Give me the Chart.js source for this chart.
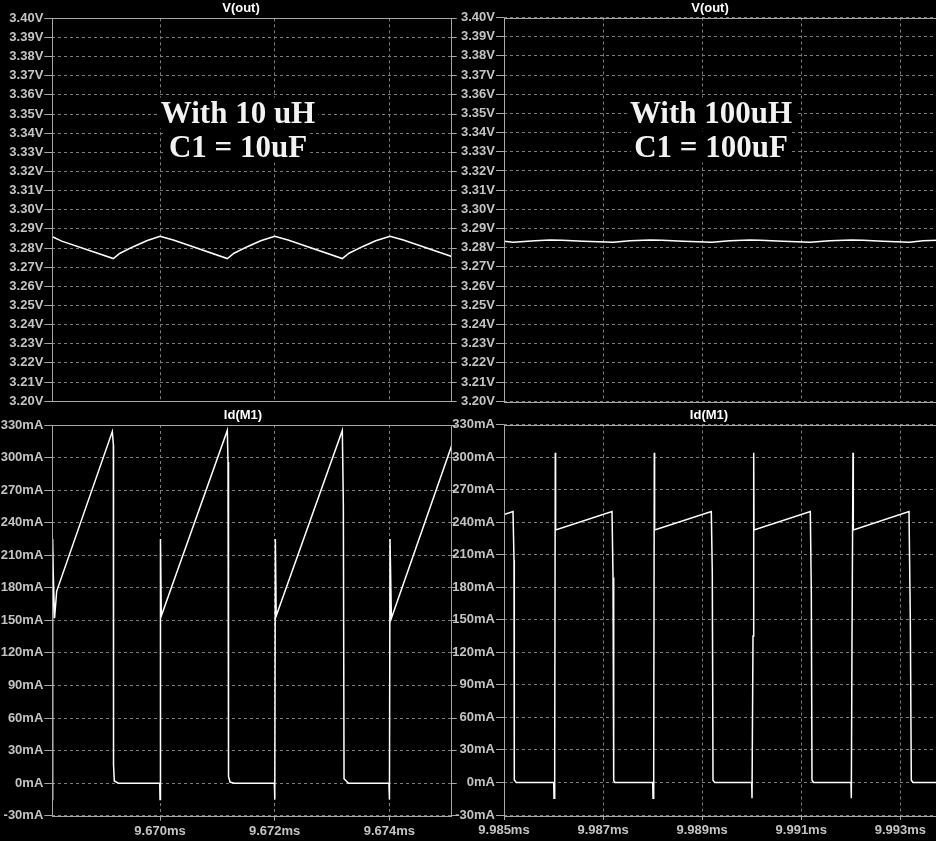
<!DOCTYPE html>
<html>
<head>
<meta charset="utf-8">
<script src="https://cdn.jsdelivr.net/npm/chart.js@4.4.1/dist/chart.umd.min.js"></script>
<style>
  html, body { margin: 0; padding: 0; background: #000; overflow: hidden; }
  #scope { position: relative; width: 936px; height: 841px; overflow: hidden; background: #000; }
  #scope canvas { position: absolute; }
</style>
</head>
<body>
<div id="scope">
  <canvas id="leftTop" width="468" height="410" style="left:0;top:0;width:468px;height:410px"></canvas>
  <canvas id="leftBottom" width="468" height="437" style="left:0;top:404px;width:468px;height:437px"></canvas>
  <canvas id="rightTop" width="500" height="410" style="left:452px;top:0;width:500px;height:410px"></canvas>
  <canvas id="rightBottom" width="500" height="437" style="left:452px;top:404px;width:500px;height:437px"></canvas>
</div>
<script>
// tick values
const voltTicks = [3.20, 3.21, 3.22, 3.23, 3.24, 3.25, 3.26, 3.27, 3.28, 3.29, 3.30,
                   3.31, 3.32, 3.33, 3.34, 3.35, 3.36, 3.37, 3.38, 3.39, 3.40];
const currentTicks = [-30, 0, 30, 60, 90, 120, 150, 180, 210, 240, 270, 300, 330];
const leftTimeTicks = [9.670, 9.672, 9.674];
const rightTimeTicks = [9.985, 9.987, 9.989, 9.991, 9.993];

// 10uH / 10uF run (time in ms)
const leftVoutTime = [9.668122, 9.6682855, 9.6691856, 9.6693025, 9.6695345, 9.6697682, 9.6700002,
  9.6702322, 9.6711741, 9.671291, 9.671523, 9.6717567, 9.6720009, 9.6722329, 9.67318,
  9.6732969, 9.6735289, 9.6737626, 9.674012, 9.674244, 9.6750882];
const leftVout = [3.2859, 3.2836, 3.2745, 3.2773, 3.2807, 3.2838, 3.2861,
  3.2842, 3.2745, 3.2773, 3.2807, 3.2838, 3.2861, 3.2842, 3.2745,
  3.2773, 3.2807, 3.2838, 3.2861, 3.2842, 3.2756];

const leftIdTime = [9.6681225, 9.6681268, 9.668137, 9.66816, 9.668198, 9.669168, 9.669186, 9.669189, 9.669203, 9.669273,
  9.669995, 9.67, 9.670008, 9.670022, 9.671174, 9.671186, 9.671195, 9.671221, 9.671291,
  9.671995, 9.672002, 9.672012, 9.672026, 9.67318, 9.673198, 9.67321, 9.673285,
  9.673993, 9.674002, 9.674012, 9.674036, 9.675088];
const leftId = [-15, 225, 195, 152, 177, 324, 312, 17, 2, 0,
  0, -15, 225, 154, 325, 296, 6, 1, 0,
  0, -15, 225, 154, 325, 257, 4, 0,
  0, -15, 225, 152, 311];

// 100uH / 100uF run (time in ms)
const rightVoutTime = [9.985, 9.985188, 9.985626, 9.985929, 9.986165, 9.986601, 9.987206, 9.987544,
  9.987947, 9.98819, 9.98862, 9.989193, 9.989562, 9.989966, 9.990168, 9.990632, 9.991177,
  9.991581, 9.992019, 9.992247, 9.992651, 9.993181, 9.993458, 9.9939, 9.994043];
const rightVout = [3.2834, 3.2829, 3.2836, 3.2840, 3.2839, 3.2834, 3.2829, 3.2836,
  3.2840, 3.2839, 3.2834, 3.2829, 3.2836, 3.2840, 3.2839, 3.2834, 3.2829,
  3.2836, 3.2840, 3.2839, 3.2834, 3.2829, 3.2836, 3.2840, 3.2840];

const rightIdTime = [9.985, 9.9851817, 9.9852019, 9.9852079, 9.9852483,
  9.9860032, 9.9860093, 9.9860234, 9.9860355, 9.9860416, 9.9871801, 9.9872003, 9.9872144, 9.9872346,
  9.9880016, 9.9880077, 9.9880218, 9.9880339, 9.98804, 9.9891845, 9.9892047, 9.9892188, 9.9892531,
  9.99, 9.9900061, 9.9900262, 9.9900404, 9.9900464, 9.9911829, 9.9912031, 9.9912172, 9.9912515,
  9.9920044, 9.9920105, 9.9920246, 9.9920448, 9.9920509, 9.9931752, 9.9932015, 9.9932217, 9.993256,
  9.994043];
const rightId = [247, 249.7, 205, 2.3, 0,
  0, -14.6, 22.6, 304, 232.7, 249.7, 189, 2, 0,
  0, -14.6, 16, 304, 232.7, 249.7, 192, 2, 0,
  0, -14.6, 135, 304, 232.7, 249.7, 176, 2, 0,
  0, -14.6, 133, 304, 232.7, 249.7, 150, 2, 0,
  0];

const leftNote = ['With 10 uH', 'C1 = 10uF'];
const rightNote = ['With 100uH', 'C1 = 100uF'];

const frameColor = '#a8a8a8';
const gridColor = '#7c7c7c';
const labelColor = '#c4c4c4';
const labelFont = { family: 'Liberation Sans', size: 13, weight: 'bold' };

// frame, pane title and the note text
const paneDecor = {
  id: 'paneDecor',
  afterDraw(chart, args, opts) {
    const { ctx, chartArea: a } = chart;
    ctx.save();
    ctx.strokeStyle = frameColor;
    ctx.lineWidth = 1;
    ctx.strokeRect(Math.round(a.left) + 0.5, Math.round(a.top) + 0.5,
      Math.round(a.right - a.left), Math.round(a.bottom - a.top));

    ctx.fillStyle = '#ffffff';
    ctx.font = 'bold 13px "Liberation Sans"';
    ctx.textAlign = 'center';
    ctx.textBaseline = 'middle';
    ctx.fillText(opts.title, opts.titleX, opts.titleY);

    if (opts.note) {
      ctx.font = 'bold 31px "Liberation Serif"';
      ctx.textBaseline = 'alphabetic';
      opts.note.forEach((line, i) => {
        const y = opts.noteY + i * 34;
        const w = ctx.measureText(line).width;
        ctx.fillStyle = '#000';
        ctx.fillRect(opts.noteX - w / 2 - 3, y - 25, w + 6, 31);
        ctx.fillStyle = '#f2f2f2';
        ctx.fillText(line, opts.noteX, y);
      });
    }
    ctx.restore();
  }
};

function points(xs, ys) {
  return xs.map((x, i) => ({ x: x, y: ys[i] }));
}

function makePane(id, cfg) {
  const scales = {
    x: {
      type: 'linear',
      min: cfg.xMin,
      max: cfg.xMax,
      afterBuildTicks: s => { s.ticks = cfg.xTicks.map(v => ({ value: v })); },
      afterFit: s => { s.height = cfg.xHeight; },
      ticks: {
        display: cfg.showTime,
        color: labelColor,
        font: labelFont,
        padding: 3,
        maxRotation: 0,
        autoSkip: false,
        callback: v => v.toFixed(3) + 'ms'
      },
      grid: { color: gridColor, drawTicks: cfg.showTime, tickLength: 5, tickColor: frameColor, tickBorderDash: [] },
      border: { display: false, dash: [3, 3] }
    },
    y: {
      type: 'linear',
      position: 'left',
      min: cfg.yMin,
      max: cfg.yMax,
      afterBuildTicks: s => { s.ticks = cfg.yTicks.map(v => ({ value: v })); },
      afterFit: s => { s.width = cfg.yWidth; },
      ticks: { color: labelColor, font: labelFont, padding: 1, autoSkip: false, callback: cfg.yFormat },
      grid: { color: gridColor, tickLength: 8, tickColor: frameColor, tickBorderDash: [] },
      border: { display: false, dash: [3, 3] }
    }
  };
  if (cfg.rightTicks) {
    scales.y2 = {
      type: 'linear',
      position: 'right',
      min: cfg.yMin,
      max: cfg.yMax,
      afterBuildTicks: s => { s.ticks = cfg.yTicks.map(v => ({ value: v })); },
      afterFit: s => { s.width = cfg.rightWidth; },
      ticks: { display: false },
      grid: { drawOnChartArea: false, tickLength: 5, tickColor: frameColor, tickBorderDash: [] },
      border: { display: false }
    };
  }
  return new Chart(document.getElementById(id), {
    type: 'line',
    data: {
      datasets: [{
        data: points(cfg.xs, cfg.ys),
        borderColor: '#ffffff',
        borderWidth: 1.5,
        pointRadius: 0,
        tension: 0,
        fill: false
      }]
    },
    options: {
      responsive: false,
      animation: false,
      events: [],
      layout: { padding: { top: cfg.top, right: 0, bottom: 0, left: 0 } },
      scales: scales,
      plugins: {
        legend: { display: false },
        tooltip: { enabled: false },
        paneDecor: cfg.decor
      }
    },
    plugins: [paneDecor]
  });
}

const voltFormat = v => v.toFixed(2) + 'V';
const currentFormat = v => v + 'mA';

makePane('leftTop', {
  xs: leftVoutTime, ys: leftVout,
  xMin: 9.668121, xMax: 9.675088, xTicks: leftTimeTicks, showTime: false, xHeight: 6,
  yMin: 3.2, yMax: 3.4, yTicks: voltTicks, yFormat: voltFormat, yWidth: 52.3,
  rightTicks: true, rightWidth: 16.3, top: 18.3,
  decor: { title: 'V(out)', titleX: 241, titleY: 8, note: leftNote, noteX: 238, noteY: 122.5 }
});

makePane('leftBottom', {
  xs: leftIdTime, ys: leftId,
  xMin: 9.668121, xMax: 9.675088, xTicks: leftTimeTicks, showTime: true, xHeight: 25.3,
  yMin: -30, yMax: 330, yTicks: currentTicks, yFormat: currentFormat, yWidth: 52.3,
  rightTicks: true, rightWidth: 16.3, top: 21,
  decor: { title: 'Id(M1)', titleX: 243, titleY: 11.5 }
});

makePane('rightTop', {
  xs: rightVoutTime, ys: rightVout,
  xMin: 9.985, xMax: 9.994043, xTicks: rightTimeTicks, showTime: false, xHeight: 6.5,
  yMin: 3.2, yMax: 3.4, yTicks: voltTicks, yFormat: voltFormat, yWidth: 52,
  rightTicks: false, top: 17.5,
  decor: { title: 'V(out)', titleX: 258, titleY: 8, note: rightNote, noteX: 259, noteY: 122.5 }
});

makePane('rightBottom', {
  xs: rightIdTime, ys: rightId,
  xMin: 9.985, xMax: 9.994043, xTicks: rightTimeTicks, showTime: true, xHeight: 26,
  yMin: -30, yMax: 330, yTicks: currentTicks, yFormat: currentFormat, yWidth: 52,
  rightTicks: false, top: 20.5,
  decor: { title: 'Id(M1)', titleX: 257, titleY: 11.5 }
});
</script>
</body>
</html>
